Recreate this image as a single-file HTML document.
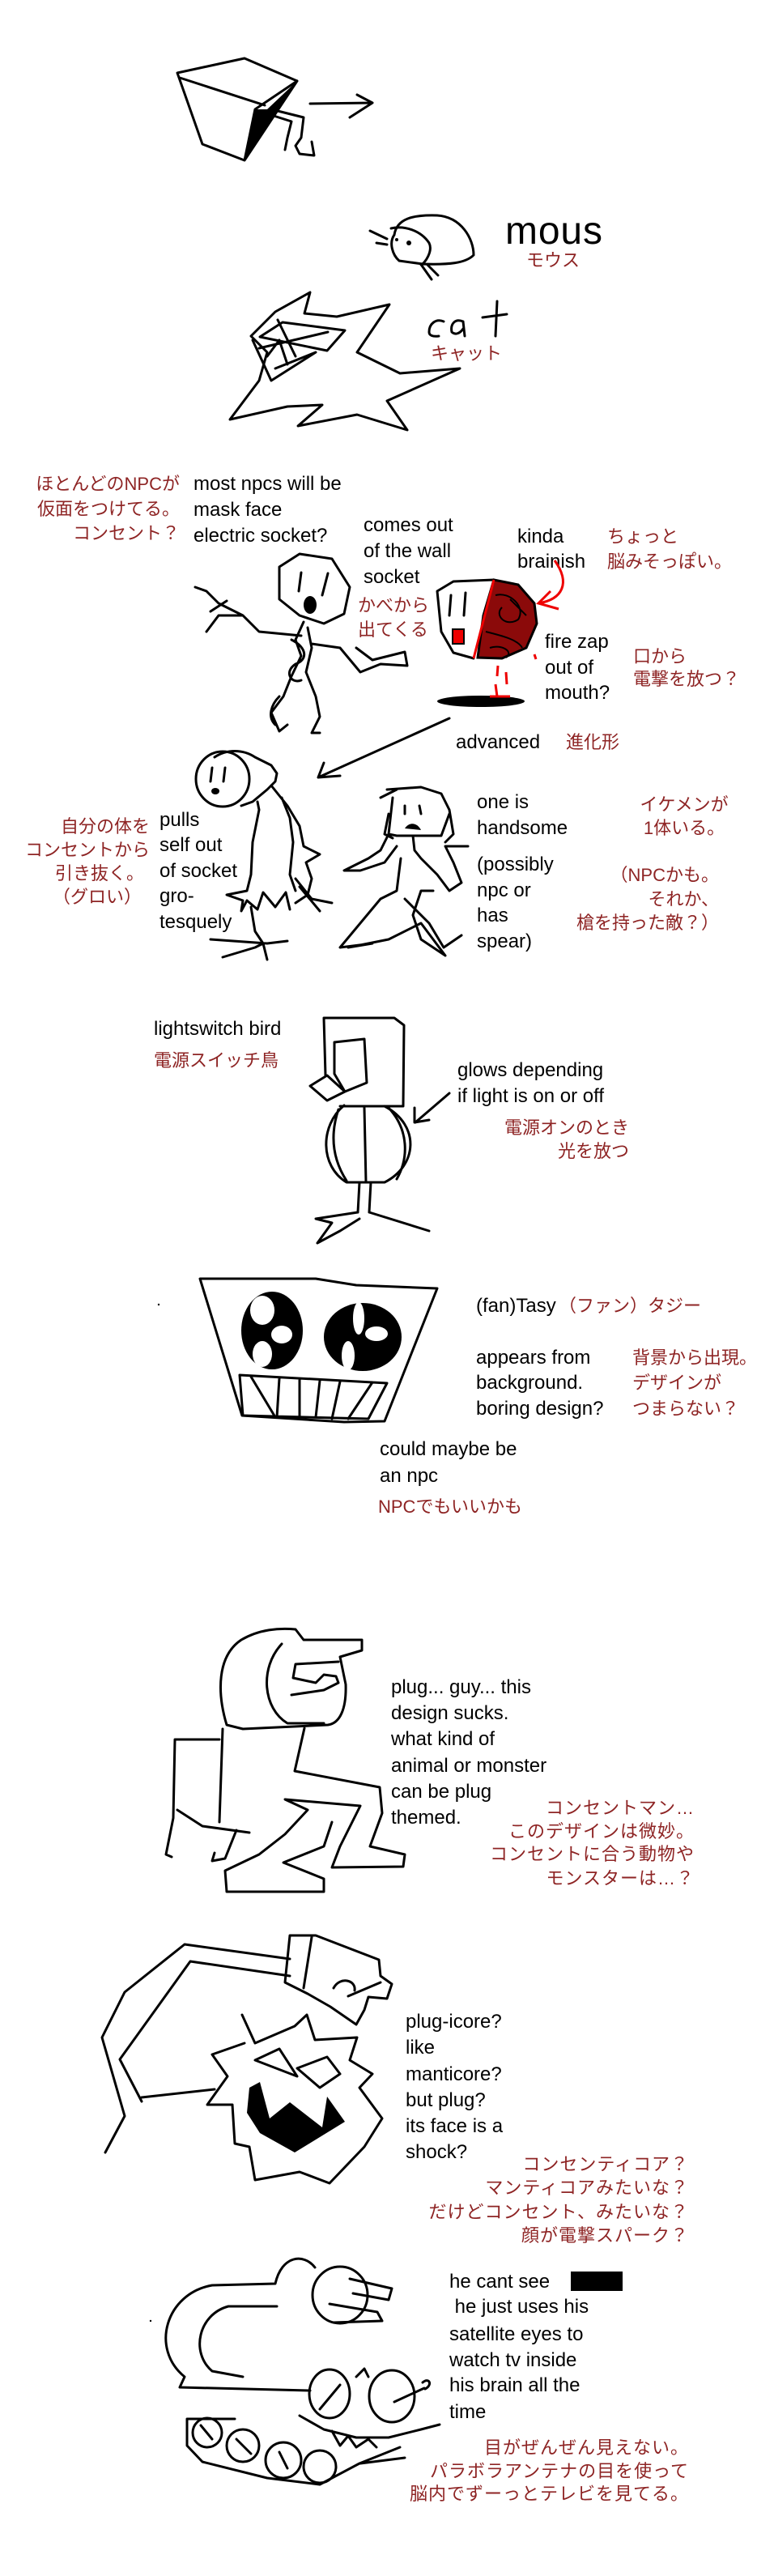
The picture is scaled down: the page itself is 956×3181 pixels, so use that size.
<!DOCTYPE html>
<html><head><meta charset="utf-8"><style>
html,body{margin:0;padding:0;background:#fff;}
svg{display:block;}
.t{font-family:"Liberation Sans",sans-serif;font-size:24px;fill:#000;}
.j{font-family:"Liberation Sans","Noto Sans CJK JP",sans-serif;font-size:22px;fill:#8e2424;}
.d{fill:none;stroke:#000;stroke-width:3;stroke-linejoin:round;stroke-linecap:round;}
</style></head><body>
<svg width="956" height="3181" viewBox="0 0 956 3181" xmlns="http://www.w3.org/2000/svg">
<!-- box creature -->
<path class="d" d="M219,90 L302,72 L367,100 L302,198 L250,178 Z M222,96 L327,130 M367,100 L315,135 L302,198"/>
<path d="M367,100 L330,135 L315,135 L302,198 Z" fill="#000"/>
<path class="d" d="M335,135 L375,145 L372,170 L365,180 L370,190 L388,192 L385,175 M338,143 L360,150 L355,170 L352,185"/>
<path class="d" d="M383,128 L460,127 M441,117 L460,127 L432,145"/>
<!-- mouse -->
<path class="d" d="M487,290 C490,270 510,265 540,266 C570,268 585,295 585,315 C575,325 555,327 522,326 L493,322 M487,290 C480,300 485,315 493,322 M483,282 C500,278 520,285 530,300 C535,310 525,325 520,327 M457,285 L478,295 M465,300 L478,302 M521,328 L533,345 M528,327 L541,340"/>
<circle cx="490" cy="296" r="2" fill="#000"/><circle cx="505" cy="300" r="3" fill="#000"/>
<text class="t" x="624" y="301" style="font-size:48px" textLength="120">mous</text>
<text class="j" x="650" y="329">モウス</text>
<!-- cat -->
<path class="d" d="M383,361 L376,387 L416,391 L481,376 L441,435 L494,461 L568,455 L478,495 L503,531 L441,512 L368,526 L398,500 L355,502 L284,518 L320,470 L330,435 L310,415 L340,385 Z"/>
<path class="d" d="M321,416 L349,398 L426,408 L404,433 Z M343,395 L365,440 M320,430 L405,410 M312,420 L335,470 L390,435 L340,455 M330,440 L345,420 L355,450"/>
<path class="d" d="M548,397 C538,393 530,400 530,410 C530,414 534,416 542,415 M572,397 C562,393 556,400 558,410 C562,414 568,412 572,406 M572,397 L574,415 M614,372 L612,415 M596,392 L626,388"/>
<text class="j" x="532" y="444">キャット</text>
<!-- section 2 texts -->
<g class="j" text-anchor="end"><text x="222" y="605">ほとんどのNPCが</text><text x="222" y="636">仮面をつけてる。</text><text x="222" y="666">コンセント？</text></g>
<g class="t"><text x="239" y="605">most npcs will be</text><text x="239" y="637">mask face</text><text x="239" y="669">electric socket?</text></g>
<g class="t"><text x="449" y="656">comes out</text><text x="449" y="688">of the wall</text><text x="449" y="720">socket</text></g>
<g class="j"><text x="442" y="755">かべから</text><text x="442" y="785">出てくる</text></g>
<g class="t"><text x="639" y="670">kinda</text><text x="639" y="701">brainish</text></g>
<g class="j"><text x="750" y="670">ちょっと</text><text x="750" y="701">脳みそっぽい。</text></g>
<g class="t"><text x="673" y="800">fire zap</text><text x="673" y="832">out of</text><text x="673" y="863">mouth?</text></g>
<g class="j"><text x="782" y="818">口から</text><text x="782" y="846">電撃を放つ？</text></g>
<text class="t" x="563" y="924">advanced</text><text class="j" x="699" y="924">進化形</text>
<!-- socket stick guy -->
<path class="d" d="M345,700 L370,684 L410,690 L432,725 L425,758 L400,770 L370,760 L345,740 Z M372,707 L369,730 M405,708 L398,735"/>
<ellipse cx="383" cy="747" rx="8" ry="11" fill="#000"/>
<path class="d" d="M375,768 L365,790 L372,810 L360,835 L350,860 L335,880 L345,903 L355,895 M380,775 L385,800 L378,830 L390,860 L395,885 L385,905 L395,905 M360,790 C380,800 380,815 365,820 C350,830 360,845 372,840 M372,785 L320,780 L300,760 L270,745 L255,730 L241,725 M300,760 L270,760 L255,780 M280,742 L260,755 M385,795 L420,800 L445,830 L470,820 L503,822 L500,805 L460,815 L440,800 M345,860 C335,870 330,885 340,895"/>
<!-- brain socket -->
<path d="M610,716 L640,722 L660,745 L663,770 L650,800 L620,813 L590,812 L597,760 Z" fill="#8b0a0a" stroke="#000" stroke-width="3"/>
<path d="M612,735 C630,730 650,750 640,765 C625,775 610,760 620,750 M600,780 C620,785 640,790 645,800 M605,800 C620,795 635,805 625,812 M630,740 L650,760" fill="none" stroke="#000" stroke-width="2"/>
<path class="d" d="M610,716 L560,718 L540,730 L545,780 L560,806 L585,813"/>
<path d="M610,716 L585,813" stroke="#e00" stroke-width="3" fill="none"/>
<path class="d" d="M557,735 L555,760 M575,732 L573,760"/>
<rect x="559" y="777" width="14" height="18" fill="#e00" stroke="#000" stroke-width="2"/>
<ellipse cx="594" cy="866" rx="54" ry="7" fill="#000"/>
<path d="M615,822 L614,835 M612,845 L614,860 M625,830 L626,845 M660,808 L662,814 M605,860 L630,860" stroke="#e00" stroke-width="3" fill="none"/>
<path d="M685,692 C705,720 695,740 665,745 M680,730 L665,745 L690,752" stroke="#e00" stroke-width="3" fill="none"/>
<!-- advanced arrow -->
<path class="d" d="M555,887 L393,960 M400,942 L393,960 L420,958"/>
<!-- pulled creature -->
<ellipse class="d" cx="275" cy="962" rx="33" ry="34"/>
<path class="d" d="M262,948 L260,965 M278,948 L276,965 M265,935 C280,925 300,925 315,935 L335,945 L342,955 L340,965 L330,975 L312,990 L298,995"/>
<ellipse cx="266" cy="977" rx="5" ry="4" fill="#000"/>
<path class="d" d="M318,990 L320,1000 L312,1040 L310,1080 L305,1100 L280,1105 L300,1112 L298,1125 L305,1112 L318,1123 L325,1102 L340,1120 L353,1102 L358,1123 M335,970 L355,995 L370,1020 L375,1045 L395,1055 L378,1065 L385,1085 L380,1105 L365,1115 M348,985 L358,1010 L362,1040 L358,1080 L365,1100 M310,1120 L315,1150 L325,1165 L330,1185 M260,1160 L330,1165 L355,1162 M275,1182 L315,1170 L325,1165 M365,1085 L385,1110 L410,1115 M370,1095 L395,1125"/>
<!-- handsome guy -->
<path class="d" d="M478,975 L520,972 L545,980 L555,1000 L560,1030 L550,1040 M470,985 L490,975 M485,985 L480,1030 L490,1032 L545,1032 L555,1005 M500,995 L500,1005 M518,995 L520,1005 M480,1005 L475,1030 L485,1035"/>
<path d="M500,1023 C505,1015 515,1015 520,1025 Z" fill="#000"/>
<path class="d" d="M480,1030 L470,1050 L455,1060 L425,1075 L445,1075 L475,1065 L490,1045 M510,1032 L512,1050 L520,1060 L540,1080 L555,1100 L570,1090 L560,1065 L550,1045 L578,1045 M495,1060 L490,1100 L470,1110 L420,1170 L460,1165 L430,1170 L480,1160 L520,1140 L535,1160 L550,1180 L520,1160 L510,1130 L520,1100 L535,1100 M500,1110 L530,1140 L548,1170 L570,1155"/>
<g class="t"><text x="589" y="998">one is</text><text x="589" y="1030">handsome</text><text x="589" y="1075">(possibly</text><text x="589" y="1107">npc or</text><text x="589" y="1138">has</text><text x="589" y="1170">spear)</text></g>
<g class="j" text-anchor="middle"><text x="845" y="1001">イケメンが</text><text x="845" y="1030">1体いる。</text></g>
<g class="j" text-anchor="end"><text x="888" y="1088">（NPCかも。</text><text x="888" y="1118">それか、</text><text x="888" y="1147">槍を持った敵？）</text></g>
<g class="j" text-anchor="end"><text x="185" y="1028">自分の体を</text><text x="185" y="1057">コンセントから</text><text x="178" y="1086">引き抜く。</text><text x="175" y="1115">（グロい）</text></g>
<g class="t"><text x="197" y="1020">pulls</text><text x="197" y="1051">self out</text><text x="197" y="1083">of socket</text><text x="197" y="1114">gro-</text><text x="197" y="1146">tesquely</text></g>
<!-- lightswitch bird -->
<g class="t"><text x="190" y="1278">lightswitch bird</text></g><text class="j" x="190" y="1317">電源スイッチ鳥</text>
<path class="d" d="M400,1257 L487,1257 L499,1266 L498,1366 L420,1366 M400,1257 L402,1328 M413,1287 L450,1283 L453,1337 L426,1348 L413,1326 Z M383,1341 L404,1328 L426,1348 L404,1359 Z"/>
<path class="d" d="M425,1365 C395,1390 395,1440 428,1460 L475,1460 C515,1440 520,1390 475,1366 M418,1370 C408,1400 410,1430 428,1458 M450,1368 L452,1460 M480,1368 C505,1395 505,1430 490,1456 M444,1460 L442,1497 M458,1460 L456,1497 M442,1497 L390,1505 L410,1510 L392,1535 L420,1520 L444,1505 M456,1497 L530,1520"/>
<path class="d" d="M555,1350 L513,1386 M512,1368 L512,1386 L530,1383"/>
<g class="t"><text x="565" y="1329">glows depending</text><text x="565" y="1361">if light is on or off</text></g>
<g class="j" text-anchor="end"><text x="777" y="1400">電源オンのとき</text><text x="777" y="1429">光を放つ</text></g>
<!-- fantasy -->
<circle cx="196" cy="1611" r="1.2" fill="#000"/>
<path class="d" d="M247,1579 L390,1579 L440,1587 L540,1591 L475,1755 L425,1756 L299,1748 Z"/>
<ellipse cx="336" cy="1643" rx="38" ry="48" fill="#000"/>
<ellipse cx="448" cy="1651" rx="48" ry="42" fill="#000"/>
<g fill="#fff"><ellipse cx="324" cy="1618" rx="15" ry="18"/><ellipse cx="348" cy="1648" rx="13" ry="11"/><ellipse cx="324" cy="1672" rx="12" ry="16"/><ellipse cx="443" cy="1628" rx="7" ry="20"/><ellipse cx="465" cy="1647" rx="14" ry="9"/><ellipse cx="430" cy="1674" rx="8" ry="18"/></g>
<path class="d" d="M296,1698 L478,1708 L455,1752 L300,1748 Z M310,1700 L340,1750 M345,1702 L342,1750 M370,1703 L370,1748 M395,1705 L390,1750 M420,1706 L410,1752 M460,1707 L430,1752"/>
<g class="t"><text x="588" y="1620">(fan)Tasy</text></g><text class="j" x="690" y="1620">（ファン）タジー</text>
<g class="t"><text x="588" y="1684">appears from</text><text x="588" y="1715">background.</text><text x="588" y="1747">boring design?</text></g>
<g class="j"><text x="781" y="1684">背景から出現。</text><text x="781" y="1715">デザインが</text><text x="781" y="1747">つまらない？</text></g>
<g class="t"><text x="469" y="1797">could maybe be</text><text x="469" y="1830">an npc</text></g>
<text class="j" x="467" y="1868">NPCでもいいかも</text>
<!-- plug guy -->
<path class="d" d="M280,2130 C268,2090 268,2045 298,2025 C320,2012 345,2010 365,2012 L375,2025 L413,2025 L447,2025 L447,2038 L420,2046 L427,2080 C428,2110 420,2128 405,2130 L300,2135 Z M348,2030 C320,2060 325,2110 355,2128 L400,2128 M360,2093 L400,2087 L418,2078 L415,2070 L400,2068 L390,2078 L362,2072 L365,2055 L418,2052"/>
<path class="d" d="M275,2135 L271,2250 M376,2134 L364,2187 L469,2207 L472,2239 L457,2280 L500,2290 L498,2305 L410,2306 L420,2280 L445,2230 L352,2222 L380,2235 L352,2265 L320,2290 L278,2310 L280,2336 L400,2336 L400,2320 L350,2300 L400,2280 L410,2250 M271,2148 L216,2148 L214,2245 L205,2290 L212,2293 M219,2235 L250,2255 L308,2263 M292,2260 L278,2295 L262,2298 L265,2288"/>
<g class="t"><text x="483" y="2091">plug... guy... this</text><text x="483" y="2123">design sucks.</text><text x="483" y="2155">what kind of</text><text x="483" y="2188">animal or monster</text><text x="483" y="2220">can be plug</text><text x="483" y="2252">themed.</text></g>
<g class="j" text-anchor="end" style="letter-spacing:1px"><text x="858" y="2240">コンセントマン…</text><text x="858" y="2269">このデザインは微妙。</text><text x="858" y="2297">コンセントに合う動物や</text><text x="858" y="2327">モンスターは…？</text></g>
<!-- plug-icore -->
<path class="d" d="M130,2658 L154,2613 L126,2516 L154,2460 L228,2401 L358,2419 M175,2595 L148,2543 L235,2422 L358,2440 M175,2590 L265,2580"/>
<path class="d" d="M358,2390 L390,2390 L468,2420 L470,2440 L484,2450 L478,2468 L455,2466 L450,2482 L440,2500 L408,2478 L380,2462 L352,2448 Z M385,2392 L375,2455 M412,2455 C420,2440 440,2445 438,2458 M430,2465 L470,2448"/>
<path class="d" d="M299,2488 L315,2523 L364,2502 L379,2488 L389,2519 L441,2516 L432,2544 L460,2561 L444,2578 L472,2616 L450,2651 L407,2696 L370,2682 L315,2692 L308,2651 L290,2647 L287,2599 L256,2599 L281,2564 L262,2537 L302,2523"/>
<path class="d" d="M315,2544 L345,2530 L367,2564 Z M367,2554 L404,2540 L420,2561 L395,2578 Z"/>
<path d="M308,2578 L321,2571 L333,2616 L358,2596 L398,2627 L404,2589 L426,2620 L364,2658 L321,2634 L305,2609 Z" fill="#000"/>
<g class="t"><text x="501" y="2504">plug-icore?</text><text x="501" y="2536">like</text><text x="501" y="2569">manticore?</text><text x="501" y="2601">but plug?</text><text x="501" y="2633">its face is a</text><text x="501" y="2665">shock?</text></g>
<g class="j" text-anchor="end" style="letter-spacing:1px"><text x="851" y="2680">コンセンティコア？</text><text x="851" y="2709">マンティコアみたいな？</text><text x="851" y="2739">だけどコンセント、みたいな？</text><text x="851" y="2768">顔が電撃スパーク？</text></g>
<!-- satellite -->
<circle cx="186" cy="2866" r="1.2" fill="#000"/>
<path class="d" d="M389,2800 C375,2782 348,2785 340,2820 L262,2822 C205,2832 185,2900 228,2935 L222,2948 L383,2952 M342,2848 L282,2848 C245,2858 235,2905 262,2928 L300,2935"/>
<ellipse class="d" cx="420" cy="2834" rx="34" ry="35"/>
<path class="d" d="M432,2814 L484,2826 L480,2840 L436,2832 M407,2845 L466,2855 L472,2866 L412,2868"/>
<ellipse class="d" cx="407" cy="2956" rx="25" ry="30"/><ellipse class="d" cx="484" cy="2959" rx="28" ry="32"/>
<path class="d" d="M487,2966 L524,2949 M522,2942 C530,2935 535,2945 525,2950 M440,2935 L450,2925 L455,2935 M395,2975 L420,2945"/>
<path class="d" d="M231,2987 L231,3020 L250,3040 L330,3060 L395,3068 L444,3042 L494,3022 M231,2987 L290,2987 M370,2983 L400,3000 L440,3010 L480,3010 L520,3000 L543,2994 M410,3002 L420,3020 L430,3008 L440,3022 L455,3012 L465,3022 M445,3042 L500,3035"/>
<circle class="d" cx="256" cy="3004" r="18"/><circle class="d" cx="300" cy="3020" r="20"/><circle class="d" cx="350" cy="3038" r="22"/><circle class="d" cx="395" cy="3046" r="20"/>
<path class="d" d="M248,2995 L262,3012 M292,3012 L310,3030 M345,3028 L355,3048"/>
<g class="t"><text x="555" y="2825">he cant see</text><text x="555" y="2856">&#160;he just uses his</text><text x="555" y="2890">satellite eyes to</text><text x="555" y="2922">watch tv inside</text><text x="555" y="2953">his brain all the</text><text x="555" y="2986">time</text></g>
<rect x="705" y="2805" width="64" height="24" fill="#000"/>
<g class="j" text-anchor="end" style="letter-spacing:1px"><text x="851" y="3030">目がぜんぜん見えない。</text><text x="851" y="3059">パラボラアンテナの目を使って</text><text x="851" y="3087">脳内でずーっとテレビを見てる。</text></g>
</svg>
</body></html>
